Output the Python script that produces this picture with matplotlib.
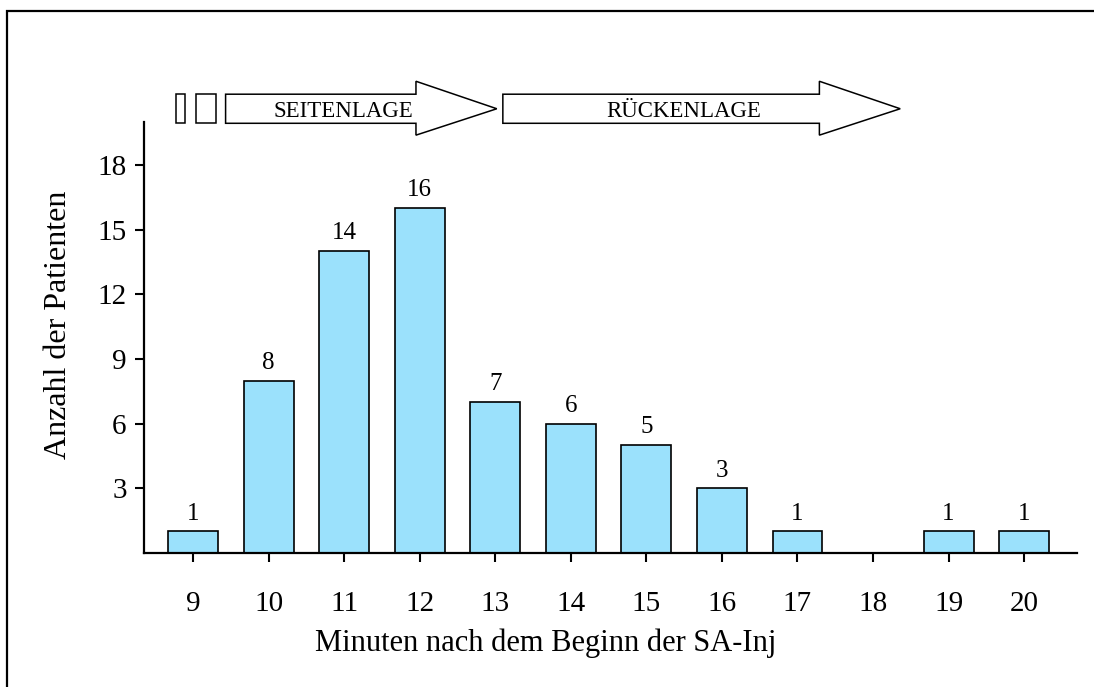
import matplotlib.pyplot as plt
import matplotlib.patches as patches

# Patients per minute after start of spinal anaesthesia injection
minutes = [9, 10, 11, 12, 13, 14, 15, 16, 17, 18, 19, 20]
patients = [1, 8, 14, 16, 7, 6, 5, 3, 1, 0, 1, 1]
y_ticks = [3, 6, 9, 12, 15, 18]

# positioning phases drawn above the bars (in minute units)
phase_labels = ["SEITENLAGE", "RÜCKENLAGE"]
phase_start = [9.43, 13.10]
phase_end = [13.02, 18.36]
small_boxes = [(8.77, 8.89), (9.04, 9.30)]

plt.rcParams['font.family'] = ['Liberation Serif', 'DejaVu Serif']

fig = plt.figure(figsize=(10.94, 6.87), dpi=100)
ax = fig.add_axes([144 / 1094, 1 - 553 / 687, 933 / 1094, 431 / 687])

ax.bar(minutes, patients, width=0.66, color='#9be1fc', edgecolor='black', linewidth=1.2)
for m, p in zip(minutes, patients):
    if p > 0:
        ax.annotate(str(p), (m, p), xytext=(0, 8.5), textcoords='offset points',
                    ha='center', va='baseline', fontsize=18)

ax.set_xlim(8.35, 20.7)
ax.set_ylim(0, 20)
ax.set_xticks(minutes)
ax.set_yticks(y_ticks)
ax.tick_params(axis='x', direction='out', length=6.5, width=1.5, pad=21, labelsize=21)
ax.tick_params(axis='y', direction='out', length=6.5, width=1.5, pad=6, labelsize=21)
for side in ['top', 'right']:
    ax.spines[side].set_visible(False)
for side in ['left', 'bottom']:
    ax.spines[side].set_linewidth(1.6)

ax.set_xlabel("Minuten nach dem Beginn der SA-Inj", fontsize=22)
ax.xaxis.set_label_coords(0.431, -0.176)
ax.set_ylabel("Anzahl der Patienten", fontsize=23)
ax.yaxis.set_label_coords(-0.076, 0.529)

# arrows above the chart
body_lo, body_hi = 19.94, 21.29
head_lo, head_hi = 19.39, 21.89
mid = (body_lo + body_hi) / 2
for x0, x1 in small_boxes:
    ax.add_patch(patches.Rectangle((x0, body_lo), x1 - x0, body_hi - body_lo,
                                   fill=False, edgecolor='black', linewidth=1.1, clip_on=False))
for lab, x0, x1 in zip(phase_labels, phase_start, phase_end):
    head = x1 - 1.07
    pts = [(x0, body_lo), (head, body_lo), (head, head_lo), (x1, mid),
           (head, head_hi), (head, body_hi), (x0, body_hi)]
    ax.add_patch(patches.Polygon(pts, closed=True, facecolor='white', edgecolor='black',
                                 linewidth=1.1, clip_on=False))
    ax.text((x0 + head) / 2 + 0.3, mid - 0.12, lab, ha='center', va='center', fontsize=16.5)

# outer frame (cut off at right and bottom)
fig.patches.append(patches.Rectangle((7 / 1094, -0.1), 2, 1.1 - 11 / 687, fill=False,
                                     edgecolor='black', linewidth=1.6,
                                     transform=fig.transFigure, figure=fig))

fig.savefig("out.png", dpi=100)
